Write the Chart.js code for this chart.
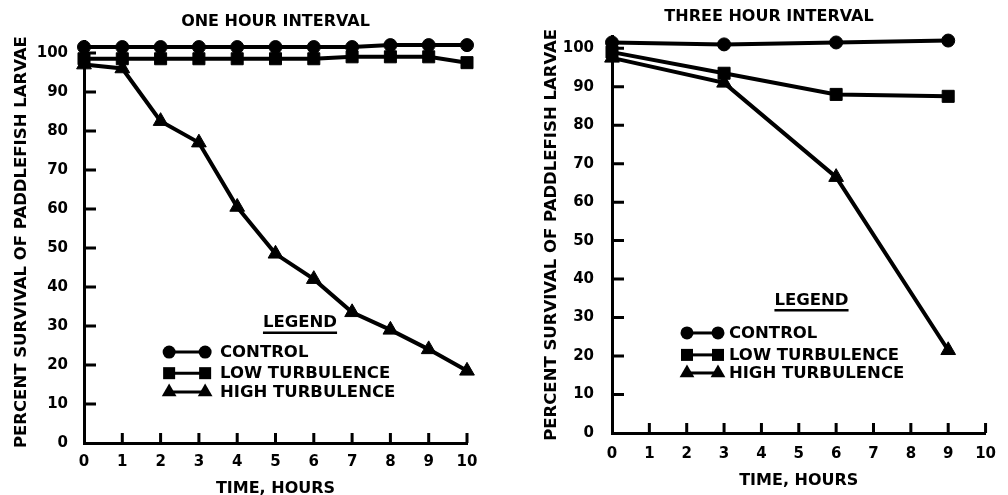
<!DOCTYPE html>
<html>
<head>
<meta charset="utf-8">
<script src="https://cdn.jsdelivr.net/npm/chart.js@4/dist/chart.umd.min.js"></script>
<style>
  html, body { margin: 0; padding: 0; background: #fff; }
  #wrap { position: relative; width: 1008px; height: 495px; overflow: hidden; }
  #oneHour { position: absolute; left: 0; top: 0; }
  #threeHour { position: absolute; left: 542px; top: 0; }
</style>
</head>
<body>
<div id="wrap">
  <canvas id="oneHour" width="552" height="495"></canvas>
  <canvas id="threeHour" width="466" height="495"></canvas>
</div>
<script>
// values (percent survival)
const seriesNames = ['CONTROL', 'LOW TURBULENCE', 'HIGH TURBULENCE'];
const hoursOne = [0, 1, 2, 3, 4, 5, 6, 7, 8, 9, 10];
const controlOne = [101.5, 101.5, 101.5, 101.5, 101.5, 101.5, 101.5, 101.5, 102, 102, 102];
const lowOne = [98.5, 98.5, 98.5, 98.5, 98.5, 98.5, 98.5, 99, 99, 99, 97.5];
const highOne = [97, 96, 82.5, 77, 60.5, 48.5, 42, 33.5, 29, 24, 18.5];

const hoursThree = [0, 3, 6, 9];
const controlThree = [101.5, 101, 101.5, 102];
const lowThree = [99, 93.5, 88, 87.5];
const highThree = [97.5, 91, 66.5, 21.5];

const yTicks = [0, 10, 20, 30, 40, 50, 60, 70, 80, 90, 100];
const xTicks = [0, 1, 2, 3, 4, 5, 6, 7, 8, 9, 10];

Chart.defaults.font.family = '"DejaVu Sans", sans-serif';
Chart.defaults.font.weight = 'bold';
Chart.defaults.color = '#000';

const markers = [
  { style: 'circle', radius: 6.5 },
  { style: 'rect', radius: 8.5 },
  { style: 'triangle', radius: 8.5 }
];

function toPoints(xs, ys) {
  return xs.map((h, i) => ({ x: h, y: ys[i] }));
}

function makeDatasets(xs, lists) {
  return lists.map((vals, i) => ({
    label: seriesNames[i],
    data: toPoints(xs, vals),
    borderColor: '#000',
    backgroundColor: '#000',
    borderWidth: 4,
    pointStyle: markers[i].style,
    pointRadius: markers[i].radius,
    pointHoverRadius: markers[i].radius,
    pointBorderWidth: 1,
    tension: 0,
    clip: false
  }));
}

function drawMarker(ctx, style, x, y, r) {
  ctx.beginPath();
  if (style === 'circle') {
    ctx.arc(x, y, r, 0, Math.PI * 2);
  } else if (style === 'rect') {
    const s = r * Math.SQRT1_2;
    ctx.rect(x - s, y - s, 2 * s, 2 * s);
  } else {
    const w = r * Math.sqrt(3) / 2;
    ctx.moveTo(x, y - r);
    ctx.lineTo(x + w, y + r / 2);
    ctx.lineTo(x - w, y + r / 2);
    ctx.closePath();
  }
  ctx.fill();
}

// tick marks point into the plot, like the original
const innerTicks = {
  id: 'innerTicks',
  beforeDatasetsDraw(chart) {
    const { ctx, chartArea, scales } = chart;
    ctx.save();
    ctx.strokeStyle = '#000';
    ctx.lineWidth = 3;
    ctx.beginPath();
    scales.x.ticks.forEach(t => {
      if (t.value === 0) return;
      const px = scales.x.getPixelForValue(t.value);
      ctx.moveTo(px, chartArea.bottom);
      ctx.lineTo(px, chartArea.bottom - 10);
    });
    scales.y.ticks.forEach(t => {
      if (t.value === 0) return;
      const py = scales.y.getPixelForValue(t.value);
      ctx.moveTo(chartArea.left, py);
      ctx.lineTo(chartArea.left + 12, py);
    });
    ctx.stroke();
    ctx.restore();
  }
};

// legend box drawn inside the plot area
const legendBox = {
  id: 'legendBox',
  afterDatasetsDraw(chart, args, opts) {
    const { ctx, scales } = chart;
    const xs = scales.x, ys = scales.y;
    ctx.save();
    ctx.fillStyle = '#000';
    ctx.strokeStyle = '#000';
    ctx.font = 'bold 16.5px "DejaVu Sans", sans-serif';
    ctx.textBaseline = 'middle';
    ctx.textAlign = 'center';
    const hx = xs.getPixelForValue(opts.titleX);
    const hy = ys.getPixelForValue(opts.titleY);
    ctx.fillText('LEGEND', hx, hy);
    const tw = ctx.measureText('LEGEND').width;
    ctx.lineWidth = 2.5;
    ctx.beginPath();
    ctx.moveTo(hx - tw / 2, hy + 10);
    ctx.lineTo(hx + tw / 2, hy + 10);
    ctx.stroke();

    ctx.textAlign = 'left';
    const sx = xs.getPixelForValue(opts.symbolX);
    const tx = xs.getPixelForValue(opts.textX);
    chart.data.datasets.forEach((ds, i) => {
      const ry = ys.getPixelForValue(opts.rows[i]);
      const r = markers[i].radius;
      const a = sx + 7, b = sx + opts.symbolW - 7;
      ctx.lineWidth = 3;
      ctx.beginPath();
      ctx.moveTo(a, ry);
      ctx.lineTo(b, ry);
      ctx.stroke();
      drawMarker(ctx, markers[i].style, a, ry, r);
      drawMarker(ctx, markers[i].style, b, ry, r);
      ctx.fillText(ds.label, tx, ry + 1);
    });
    ctx.restore();
  }
};

function makeChart(id, cfg) {
  return new Chart(document.getElementById(id), {
    type: 'line',
    data: { datasets: makeDatasets(cfg.hours, cfg.series) },
    options: {
      responsive: false,
      animation: false,
      events: [],
      layout: { padding: { left: 0, right: cfg.padRight, top: 0, bottom: 0 } },
      scales: {
        x: {
          type: 'linear',
          min: 0,
          max: 10,
          afterBuildTicks: s => { s.ticks = xTicks.map(v => ({ value: v })); },
          afterFit: s => { s.height = cfg.xHeight; },
          grid: { display: false, drawTicks: false },
          border: { display: true, color: '#000', width: 3 },
          ticks: { padding: cfg.xTickPad, font: { size: 15, weight: 'bold' }, color: '#000' },
          title: {
            display: true,
            text: 'TIME, HOURS',
            color: '#000',
            font: { size: 16, weight: 'bold', lineHeight: 0.8 },
            padding: { top: 0, bottom: cfg.xTitlePad }
          }
        },
        y: {
          min: 0,
          max: 103,
          afterBuildTicks: s => { s.ticks = yTicks.map(v => ({ value: v })); },
          afterFit: s => { s.width = cfg.yWidth; },
          grid: { display: false, drawTicks: false },
          border: { display: true, color: '#000', width: 3 },
          ticks: { padding: cfg.yTickPad, font: { size: 15, weight: 'bold' }, color: '#000' },
          title: {
            display: true,
            text: 'PERCENT SURVIVAL OF PADDLEFISH LARVAE',
            color: '#000',
            font: { size: 16.5, weight: 'bold', lineHeight: 1.2 },
            padding: { top: cfg.yTitlePad, bottom: 0 }
          }
        }
      },
      plugins: {
        legend: { display: false },
        tooltip: { enabled: false },
        title: {
          display: true,
          text: cfg.title,
          fullSize: cfg.titleFull,
          color: '#000',
          font: { size: 16, weight: 'bold', lineHeight: 1.2 },
          padding: { top: cfg.titleTop, bottom: cfg.titleBottom }
        },
        legendBox: cfg.legend
      }
    },
    plugins: [innerTicks, legendBox]
  });
}

makeChart('oneHour', {
  title: 'ONE HOUR INTERVAL',
  titleFull: false,
  hours: hoursOne,
  series: [controlOne, lowOne, highOne],
  padRight: 85,
  xHeight: 52,
  yWidth: 84,
  xTickPad: 10,
  yTickPad: 16,
  xTitlePad: 0,
  yTitlePad: 12,
  titleTop: 12.5,
  titleBottom: 9.5,
  legend: { titleX: 5.64, titleY: 30.8, symbolX: 2.04, symbolW: 50, textX: 3.55, rows: [23.3, 17.9, 13.1] }
});

makeChart('threeHour', {
  title: 'THREE HOUR INTERVAL',
  titleFull: true,
  hours: hoursThree,
  series: [controlThree, lowThree, highThree],
  padRight: 12,
  xHeight: 62,
  yWidth: 70,
  xTickPad: 12,
  yTickPad: 18,
  xTitlePad: 7.5,
  yTitlePad: 0,
  titleTop: 7,
  titleBottom: 10.5,
  legend: { titleX: 5.34, titleY: 34.5, symbolX: 1.82, symbolW: 45, textX: 3.13, rows: [26, 20.3, 15.6] }
});
</script>
</body>
</html>
